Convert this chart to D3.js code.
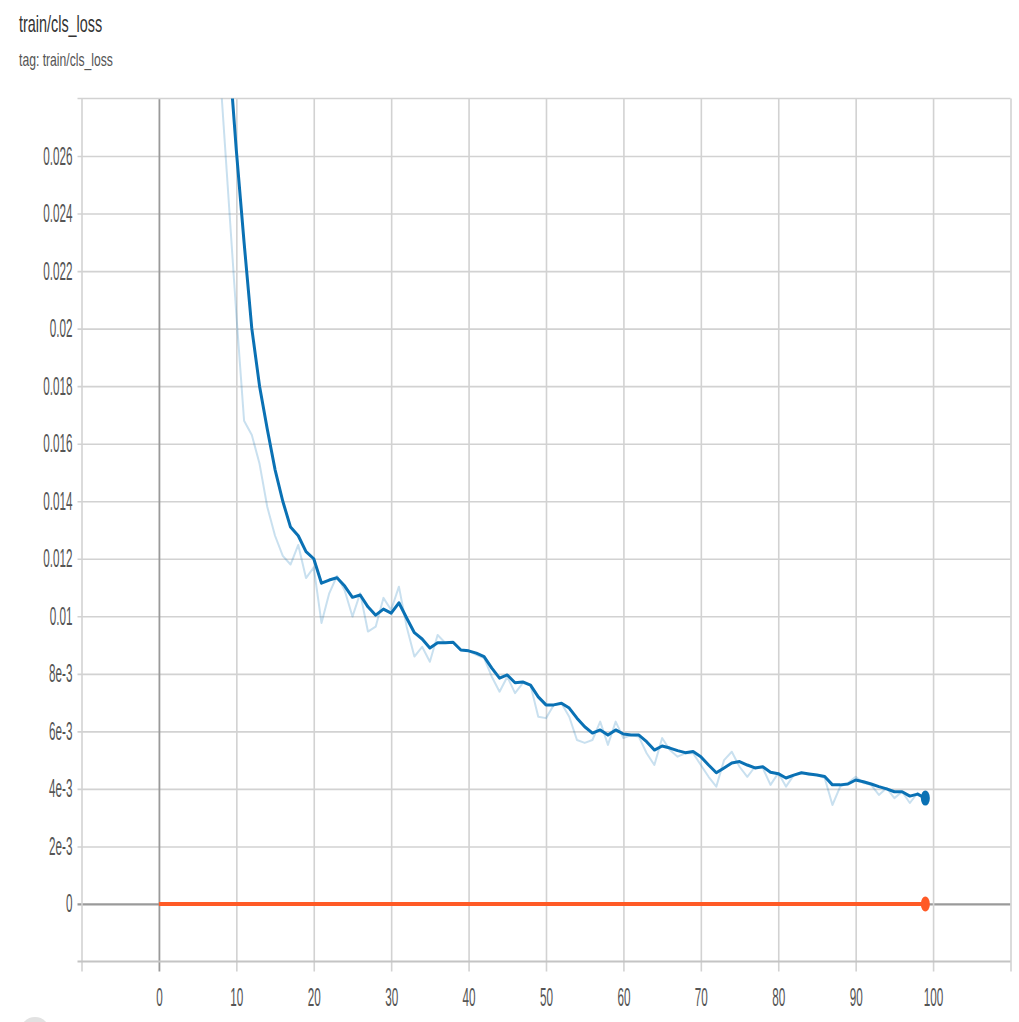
<!DOCTYPE html>
<html>
<head>
<meta charset="utf-8">
<script src="https://cdn.jsdelivr.net/npm/d3@7"></script>
<style>
  html, body { margin: 0; padding: 0; background: #ffffff; }
  svg { display: block; }
</style>
</head>
<body>
<svg id="chart" width="1019" height="1022"></svg>
<script>
// Training steps (x) shared by every run
const steps = d3.range(0, 100);

// train/cls_loss, smoothed curve
const clsLossSmoothed = [
  0.118, 0.101, 0.086, 0.073, 0.062, 0.053, 0.046, 0.040, 0.035, 0.0298,
  0.0262, 0.0230, 0.0200, 0.0180, 0.0165, 0.0151, 0.0140, 0.0131, 0.0128, 0.01225,
  0.0120, 0.01115, 0.01126, 0.01134, 0.01105, 0.01066, 0.01074, 0.01033, 0.01004, 0.01025,
  0.01011, 0.01047, 0.00994, 0.00943, 0.00921, 0.0089, 0.00908, 0.00908, 0.0091, 0.00883,
  0.0088, 0.00872, 0.0086, 0.0082, 0.00785, 0.00796, 0.00769, 0.00772, 0.00761, 0.0072,
  0.00692, 0.00692, 0.00698, 0.00681, 0.00646, 0.00616, 0.00594, 0.00605, 0.00587, 0.00605,
  0.00591, 0.00587, 0.00587, 0.00564, 0.00535, 0.00549, 0.00542, 0.00533, 0.00526, 0.0053,
  0.00512, 0.00483, 0.00456, 0.00473, 0.0049, 0.00495, 0.00483, 0.00473, 0.00477, 0.00458,
  0.00453, 0.00438, 0.00448, 0.00456, 0.00452, 0.00448, 0.00443, 0.00414, 0.00414, 0.00417,
  0.00431, 0.00425, 0.00417, 0.00408, 0.004, 0.0039, 0.0039, 0.00375, 0.00382, 0.00368
];

// train/cls_loss, raw values
const clsLossRaw = [
  0.110, 0.093, 0.078, 0.066, 0.055, 0.047, 0.040, 0.034, 0.0285, 0.0245,
  0.0205, 0.0168, 0.0163, 0.0153, 0.0138, 0.0128, 0.0121, 0.0118, 0.01248, 0.01133,
  0.0117, 0.00977, 0.0108, 0.0114, 0.0109, 0.00999, 0.0108, 0.00947, 0.00964, 0.01064,
  0.01022, 0.01103, 0.00964, 0.0086, 0.00894, 0.00842, 0.00935, 0.00907, 0.0091, 0.00883,
  0.0088, 0.00866, 0.00855, 0.0079, 0.00738, 0.0079, 0.00733, 0.00768, 0.0076, 0.00651,
  0.00646, 0.00692, 0.00698, 0.00651, 0.0057, 0.0056, 0.0057, 0.00634, 0.00553, 0.00634,
  0.00577, 0.00587, 0.00581, 0.00524, 0.00483, 0.00577, 0.00535, 0.00512, 0.00524, 0.00524,
  0.00483, 0.00442, 0.00408, 0.005, 0.00529, 0.00477, 0.00442, 0.00477, 0.00473, 0.00414,
  0.00455, 0.00408, 0.00448, 0.00456, 0.00448, 0.00448, 0.00438, 0.00344, 0.00408, 0.0042,
  0.00442, 0.0042, 0.00414, 0.00379, 0.00403, 0.00368, 0.0039, 0.00351, 0.00386, 0.00355
];

// second run, flat at zero
const secondRun = [
  0,0,0,0,0,0,0,0,0,0, 0,0,0,0,0,0,0,0,0,0, 0,0,0,0,0,0,0,0,0,0, 0,0,0,0,0,0,0,0,0,0,
  0,0,0,0,0,0,0,0,0,0, 0,0,0,0,0,0,0,0,0,0, 0,0,0,0,0,0,0,0,0,0, 0,0,0,0,0,0,0,0,0,0,
  0,0,0,0,0,0,0,0,0,0, 0,0,0,0,0,0,0,0,0,0
];

// Axis ticks and their labels
const xTicks = [-10, 0, 10, 20, 30, 40, 50, 60, 70, 80, 90, 100, 110];
const xTickLabels = ["", "0", "10", "20", "30", "40", "50", "60", "70", "80", "90", "100", ""];
const yTicks = [0, 0.002, 0.004, 0.006, 0.008, 0.01, 0.012, 0.014, 0.016, 0.018, 0.02, 0.022, 0.024, 0.026];
const yTickLabels = ["0", "2e-3", "4e-3", "6e-3", "8e-3", "0.01", "0.012", "0.014", "0.016",
                     "0.018", "0.02", "0.022", "0.024", "0.026"];

const svg = d3.select("#chart");
const plotLeft = 81.5, plotRight = 1010.5, plotTop = 98.5, plotBottom = 961.5;

const x = d3.scaleLinear().domain([-10, 110]).range([plotLeft, plotRight]);
const y = d3.scaleLinear().domain([-0.002, 0.028]).range([plotBottom, plotTop]);

const gridColor = "#d2d2d2";
const zeroColor = "#9a9a9a";
const labelColor = "#555";
const labelFont = "Liberation Sans, Arial, sans-serif";

// Title block
svg.append("text")
  .attr("transform", "translate(19,32) scale(0.6,1)")
  .attr("font-family", labelFont).attr("font-size", 24).attr("fill", "#333")
  .text("train/cls_loss");
svg.append("text")
  .attr("transform", "translate(19,66) scale(0.64,1)")
  .attr("font-family", labelFont).attr("font-size", 19).attr("fill", "#555")
  .text("tag: train/cls_loss");

// Horizontal grid + y labels via left axis
const yAxis = d3.axisLeft(y)
  .tickValues(yTicks)
  .tickFormat((d, i) => yTickLabels[i])
  .tickSizeInner(-(plotRight - plotLeft) - 4)
  .tickSizeOuter(0)
  .tickPadding(0);
const gy = svg.append("g").attr("transform", `translate(${plotLeft - 4},0)`).call(yAxis);
gy.select(".domain").remove();
gy.selectAll(".tick line")
  .attr("x1", 0).attr("x2", plotRight - plotLeft + 4)
  .attr("stroke", d => d === 0 ? zeroColor : gridColor)
  .attr("stroke-width", d => d === 0 ? 2.2 : 1.6);
gy.selectAll(".tick text")
  .attr("x", null).attr("dy", null)
  .attr("transform", "translate(-5,8) scale(0.45,1)")
  .attr("text-anchor", "end")
  .attr("font-family", labelFont).attr("font-size", 26).attr("fill", labelColor);

// Vertical grid + x labels via bottom axis
const xAxis = d3.axisBottom(x)
  .tickValues(xTicks)
  .tickFormat((d, i) => xTickLabels[i])
  .tickSizeOuter(0)
  .tickPadding(0);
const gx = svg.append("g").attr("transform", `translate(0,${plotBottom})`).call(xAxis);
gx.select(".domain").remove();
gx.selectAll(".tick line")
  .attr("y1", plotTop - plotBottom).attr("y2", 10)
  .attr("stroke", d => d === 0 ? zeroColor : gridColor)
  .attr("stroke-width", d => d === 0 ? 1.8 : 1.6);
gx.selectAll(".tick text")
  .attr("y", null).attr("dy", null)
  .attr("transform", "translate(0,44) scale(0.45,1)")
  .attr("text-anchor", "middle")
  .attr("font-family", labelFont).attr("font-size", 26).attr("fill", labelColor);

// Frame: top edge and bottom baseline
svg.append("line").attr("x1", plotLeft - 4).attr("x2", plotRight)
  .attr("y1", plotTop).attr("y2", plotTop).attr("stroke", gridColor).attr("stroke-width", 1.6);
svg.append("line").attr("x1", plotLeft - 4).attr("x2", plotRight)
  .attr("y1", plotBottom).attr("y2", plotBottom).attr("stroke", "#c4c4c4").attr("stroke-width", 2);

// Plot clip
svg.append("clipPath").attr("id", "plot-clip")
  .append("rect").attr("x", plotLeft).attr("y", plotTop)
  .attr("width", plotRight - plotLeft).attr("height", plotBottom - plotTop);
const plot = svg.append("g").attr("clip-path", "url(#plot-clip)");

const lineGen = vals => d3.line()
  .x((d, i) => x(steps[i]))
  .y(d => y(d))(vals);

const blue = "#0a71b4";
const orange = "#ff5a26";

plot.append("path").attr("d", lineGen(clsLossRaw))
  .attr("fill", "none").attr("stroke", blue).attr("stroke-opacity", 0.22)
  .attr("stroke-width", 2).attr("stroke-linejoin", "round");
plot.append("path").attr("d", lineGen(clsLossSmoothed))
  .attr("fill", "none").attr("stroke", blue)
  .attr("stroke-width", 3).attr("stroke-linejoin", "round");
plot.append("path").attr("d", lineGen(secondRun))
  .attr("fill", "none").attr("stroke", orange)
  .attr("stroke-width", 4);

// End-of-run markers
const last = steps.length - 1;
plot.append("ellipse")
  .attr("cx", x(steps[last])).attr("cy", y(clsLossSmoothed[last]))
  .attr("rx", 4.5).attr("ry", 7.5).attr("fill", blue);
plot.append("ellipse")
  .attr("cx", x(steps[last])).attr("cy", y(secondRun[last]))
  .attr("rx", 4.5).attr("ry", 7.5).attr("fill", orange);

// Partially visible control button in the corner
svg.append("circle").attr("cx", 35).attr("cy", 1032).attr("r", 15).attr("fill", "#e2e2e2");
</script>
</body>
</html>
